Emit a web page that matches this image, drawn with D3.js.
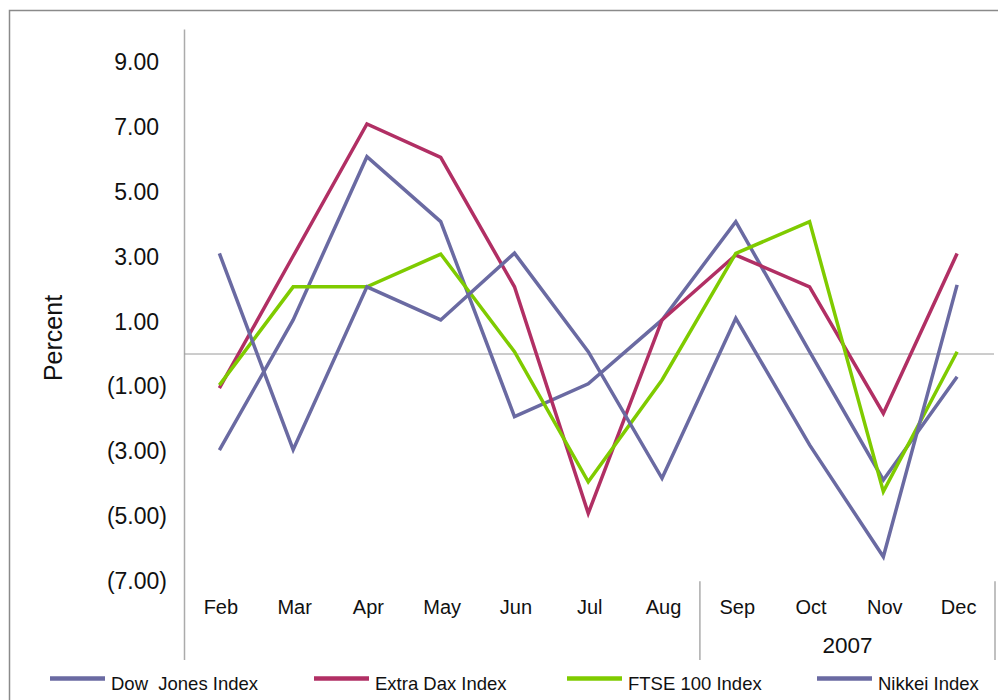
<!DOCTYPE html>
<html>
<head>
<meta charset="utf-8">
<script src="https://cdn.jsdelivr.net/npm/d3@7"></script>
<style>
  html, body { margin: 0; padding: 0; background: #fff; }
  svg { display: block; font-family: "Liberation Sans", Arial, sans-serif; }
  text { fill: #111; }
</style>
</head>
<body>
<svg id="chart" width="998" height="700"></svg>
<script>
// Monthly index returns, 2007 (percent)
const months = ["Feb", "Mar", "Apr", "May", "Jun", "Jul", "Aug", "Sep", "Oct", "Nov", "Dec"];
const dowJones = [-2.96, 1.05, 6.08, 4.08, -1.93, -0.92, 1.05, 4.08, 0.07, -3.88, -0.70];
const extraDax = [-1.05, 3.02, 7.09, 6.06, 2.07, -4.91, 1.05, 3.05, 2.07, -1.83, 3.10];
const ftse100 = [-0.96, 2.07, 2.07, 3.08, 0.07, -3.94, -0.80, 3.10, 4.08, -4.24, 0.07];
const nikkei = [3.10, -2.95, 2.07, 1.05, 3.11, 0.07, -3.83, 1.10, -2.80, -6.25, 2.13];
const yTicks = [9, 7, 5, 3, 1, -1, -3, -5, -7];
const yearGroups = [{ label: "", months: months.slice(0, 7) }, { label: "2007", months: months.slice(7) }];

const series = [
  { name: "Dow  Jones Index", values: dowJones, color: "#6a6aa2" },
  { name: "Extra Dax Index", values: extraDax, color: "#b12f64" },
  { name: "FTSE 100 Index", values: ftse100, color: "#7fcb00" },
  { name: "Nikkei Index", values: nikkei, color: "#6a6aa2" }
];

const svg = d3.select("#chart");

// outer frame
svg.append("rect")
  .attr("x", 9.5).attr("y", 10.5)
  .attr("width", 1000).attr("height", 700)
  .attr("fill", "none").attr("stroke", "#8a8a8a").attr("stroke-width", 1.5);

const plotLeft = 184.5, plotRight = 994;
const x = d3.scaleBand().domain(months).range([182.5, 994]).padding(0);
const y = d3.scaleLinear().domain([-7, 10]).range([581.15, 29.5]);
const fmt = v => v < 0 ? "(" + d3.format(".2f")(-v) + ")" : d3.format(".2f")(v);

// value axis line
svg.append("line")
  .attr("x1", plotLeft).attr("x2", plotLeft)
  .attr("y1", y(10)).attr("y2", 660)
  .attr("stroke", "#ababab").attr("stroke-width", 1.5);

// zero line
svg.append("line")
  .attr("x1", plotLeft).attr("x2", plotRight)
  .attr("y1", y(0)).attr("y2", y(0))
  .attr("stroke", "#9a9a9a").attr("stroke-width", 1);

// value tick labels (positives padded so digits align with parenthesised negatives)
svg.append("g").selectAll("text")
  .data(yTicks)
  .join("text")
  .attr("x", d => d < 0 ? 167 : 159)
  .attr("y", d => y(d) + 8)
  .attr("text-anchor", "end")
  .attr("font-size", 23)
  .text(fmt);

// axis title
svg.append("text")
  .attr("transform", "translate(61.5,338) rotate(-90)")
  .attr("text-anchor", "middle")
  .attr("font-size", 25)
  .text("Percent");

// category labels
svg.append("g").selectAll("text")
  .data(months)
  .join("text")
  .attr("x", d => x(d) + x.bandwidth() / 2 + 1.5)
  .attr("y", 614)
  .attr("text-anchor", "middle")
  .attr("font-size", 20)
  .text(d => d);

// year grouping: separators and labels
const sepYs = [y(-7), 660];
yearGroups.forEach(g => {
  const first = g.months[0], last = g.months[g.months.length - 1];
  const xr = x(last) + x.bandwidth() + 1;
  svg.append("line")
    .attr("x1", xr).attr("x2", xr)
    .attr("y1", sepYs[0]).attr("y2", sepYs[1])
    .attr("stroke", "#ababab").attr("stroke-width", 1.5);
  if (g.label) {
    const xl = x(first) + 1;
    svg.append("text")
      .attr("x", (xl + xr) / 2)
      .attr("y", 653)
      .attr("text-anchor", "middle")
      .attr("font-size", 22.5)
      .text(g.label);
  }
});

// series lines
const line = d3.line()
  .x((d, i) => x(months[i]) + x.bandwidth() / 2)
  .y(d => y(d));

svg.append("g").selectAll("path")
  .data(series)
  .join("path")
  .attr("d", s => line(s.values))
  .attr("fill", "none")
  .attr("stroke", s => s.color)
  .attr("stroke-width", 3.5)
  .attr("stroke-linejoin", "miter");

// legend
const legendX = [50, 314, 567, 817];
const lg = svg.append("g").selectAll("g")
  .data(series)
  .join("g")
  .attr("transform", (d, i) => `translate(${legendX[i]},678.5)`);
lg.append("line")
  .attr("x1", 0).attr("x2", 55)
  .attr("stroke", d => d.color).attr("stroke-width", 4.5);
lg.append("text")
  .attr("x", 61).attr("y", 11)
  .attr("font-size", 18.5)
  .style("white-space", "pre")
  .text(d => d.name);
</script>
</body>
</html>
